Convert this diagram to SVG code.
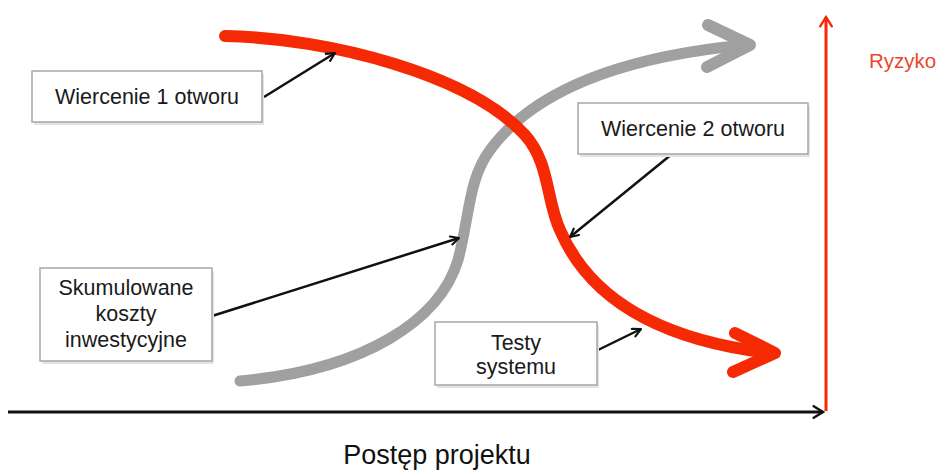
<svg xmlns="http://www.w3.org/2000/svg" width="944" height="475" viewBox="0 0 944 475">
<style>
.box{fill:#fff;stroke:#a6a6a6;stroke-width:1.5}
.shadow{fill:#e4e4e4}
.lbl{font-family:"Liberation Sans",Arial,sans-serif;font-size:21.5px;fill:#1a1a1a;text-anchor:middle}
.lead{stroke:#111;stroke-width:2.5;fill:none}
.red{stroke:#f52a05;fill:none;stroke-linecap:round;stroke-linejoin:round}
.gray{stroke:#a0a0a0;fill:none;stroke-linecap:round;stroke-linejoin:round}
</style>
<defs>
<marker id="ah" viewBox="0 0 12 12" refX="10.5" refY="6" markerWidth="11" markerHeight="11" orient="auto" markerUnits="userSpaceOnUse">
<path d="M1.5,1.5 L10.5,6 L1.5,10.5" fill="none" stroke="#111" stroke-width="2.3" stroke-linecap="round" stroke-linejoin="round"/>
</marker>
<marker id="axk" viewBox="0 0 12 12" refX="10" refY="6" markerWidth="14" markerHeight="14" orient="auto" markerUnits="userSpaceOnUse">
<path d="M2,1 L10,6 L2,11" fill="none" stroke="#111" stroke-width="2" stroke-linecap="round"/>
</marker>
<marker id="axr" viewBox="0 0 12 12" refX="10" refY="6" markerWidth="14" markerHeight="14" orient="auto" markerUnits="userSpaceOnUse">
<path d="M2,1 L10,6 L2,11" fill="none" stroke="#f52a05" stroke-width="2" stroke-linecap="round"/>
</marker>
</defs>
<rect width="944" height="475" fill="#fff"/>
<g id="axes">
<line x1="8" y1="412" x2="823" y2="412" stroke="#111" stroke-width="3" marker-end="url(#axk)"/>
<line x1="826" y1="411" x2="826" y2="17" stroke="#f52a05" stroke-width="3" marker-end="url(#axr)"/>
</g>
<g id="curves">
<path class="gray" stroke-width="11" d="M240,381 C365,370 440,320 458,260 C470,215 468,180 490,150 C540,82 640,55 745,45"/>
<path class="gray" stroke-width="12" d="M708,25 L750,45 L707,67"/>
<path class="red" stroke-width="12" d="M225,36 C330,38 470,75 525,135 C550,163 546,200 560,230 C590,300 660,340 770,353"/>
<path class="red" stroke-width="12" d="M735,333 L775,353 L733,372"/>
</g>
<g id="connectors">
<line class="lead" x1="264" y1="97" x2="335" y2="53" marker-end="url(#ah)"/>
<line class="lead" x1="672" y1="154" x2="570" y2="237" marker-end="url(#ah)"/>
<line class="lead" x1="212" y1="316" x2="459" y2="238" marker-end="url(#ah)"/>
<line class="lead" x1="598" y1="350" x2="641" y2="329" marker-end="url(#ah)"/>
</g>
<g id="node-wiercenie1">
<rect class="shadow" x="34" y="74" width="230" height="51"/>
<rect class="box" x="32" y="71" width="230" height="51"/>
<text class="lbl" x="147" y="104">Wiercenie 1 otworu</text>
</g>
<g id="node-wiercenie2">
<rect class="shadow" x="580" y="106" width="230" height="51"/>
<rect class="box" x="578" y="103" width="230" height="51"/>
<text class="lbl" x="693" y="136">Wiercenie 2 otworu</text>
</g>
<g id="node-koszty">
<rect class="shadow" x="42" y="271" width="172" height="93"/>
<rect class="box" x="40" y="268" width="172" height="93"/>
<text class="lbl" x="126" y="295">Skumulowane</text>
<text class="lbl" x="126" y="321">koszty</text>
<text class="lbl" x="126" y="347">inwestycyjne</text>
</g>
<g id="node-testy">
<rect class="shadow" x="437" y="325" width="162" height="63"/>
<rect class="box" x="435" y="322" width="162" height="63"/>
<text class="lbl" x="516" y="350">Testy</text>
<text class="lbl" x="516" y="374">systemu</text>
</g>
<text x="869" y="68" font-family="'Liberation Sans',Arial,sans-serif" font-size="20.5" fill="#e8482a">Ryzyko</text>
<text x="437" y="464" font-family="'Liberation Sans',Arial,sans-serif" font-size="27" fill="#111" text-anchor="middle">Postęp projektu</text>
</svg>
